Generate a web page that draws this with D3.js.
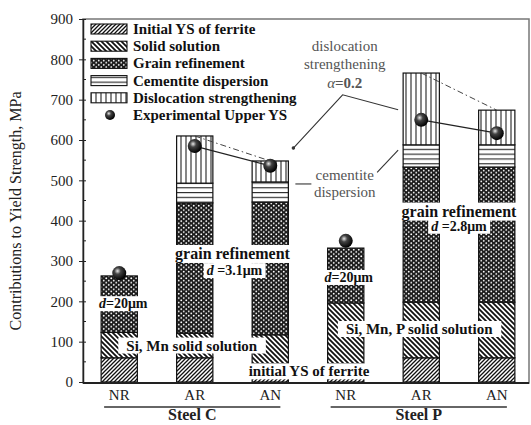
<!DOCTYPE html>
<html><head><meta charset="utf-8">
<script src="https://cdn.jsdelivr.net/npm/d3@7"></script>
<style>body{margin:0;background:#fff;} svg{display:block;font-family:"Liberation Serif","Times New Roman",serif;}</style>
</head><body><svg id="c" width="531" height="425"></svg>
<script>
// ---- data ----
const categories = ["NR","AR","AN","NR","AR","AN"];
const steels = ["Steel C","Steel C","Steel C","Steel P","Steel P","Steel P"];
const ferrite = [60,60,45,45,60,60];
const solidSolution = [63,61,72,151,138,138];
const grainRefinement = [140,323,329,136,335,335];
const cementite = [0,49,50,0,55,55];
const dislocation = [0,117,52,0,178,86];
const experimentalYS = [270,585,536,350,650,617];
const seriesNames = ["Initial YS of ferrite","Solid solution","Grain refinement","Cementite dispersion","Dislocation strengthening"];
const legendExtra = "Experimental Upper YS";
const yTicks = [0,100,200,300,400,500,600,700,800,900];
const yMinorTicks = [50,150,250,350,450,550,650,750,850];
const groupNames = ["Steel C","Steel P"];

const keys = ["ferrite","ss","grain","cem","disl"];
const table = categories.map((c,i)=>({id:i, cat:c, steel:steels[i], ferrite:ferrite[i], ss:solidSolution[i], grain:grainRefinement[i], cem:cementite[i], disl:dislocation[i], exp:experimentalYS[i]}));
table.forEach(d=>d.total=keys.reduce((s,k)=>s+d[k],0));

const svg = d3.select("#c");
const L=83, R=529, T=19, B=383;
const x = d3.scaleBand().domain(d3.range(categories.length)).range([83,533]).paddingInner(0.52).paddingOuter(0.24);
const y = d3.scaleLinear().domain([0,900]).range([382,19]);
const bw = x.bandwidth();

// ---- patterns ----
const defs = svg.append("defs");
function pat(id,w,h,draw){const p=defs.append("pattern").attr("id",id).attr("patternUnits","userSpaceOnUse").attr("width",w).attr("height",h);p.append("rect").attr("width",w).attr("height",h).attr("fill","#fff");draw(p);}
pat("pFerrite",4,4,p=>{p.append("path").attr("d","M-1,1 L1,-1 M0,4 L4,0 M3,5 L5,3").attr("stroke","#111").attr("stroke-width",1.3);});
pat("pSS",5,5,p=>{p.append("path").attr("d","M-1,4 L1,6 M0,0 L5,5 M4,-1 L6,1").attr("stroke","#111").attr("stroke-width",1.8);});
pat("pGrain",5,4.4,p=>{p.select("rect").attr("fill","#1a1a1a");
  [[1.25,1.1],[3.75,3.3],[6.25,3.3],[-1.25,3.3]].forEach(c=>p.append("circle").attr("cx",c[0]).attr("cy",c[1]).attr("r",0.95).attr("fill","#fff"));});
pat("pCem",4,4.8,p=>{p.append("line").attr("x1",0).attr("x2",4).attr("y1",0.6).attr("y2",0.6).attr("stroke","#222").attr("stroke-width",1.1);});
pat("pDisl",5,4,p=>{p.append("line").attr("x1",1).attr("x2",1).attr("y1",0).attr("y2",4).attr("stroke","#222").attr("stroke-width",1.1);});
const fills = {ferrite:"url(#pFerrite)", ss:"url(#pSS)", grain:"url(#pGrain)", cem:"url(#pCem)", disl:"url(#pDisl)"};
const grad = defs.append("radialGradient").attr("id","ball").attr("cx","38%").attr("cy","35%").attr("r","65%");
grad.append("stop").attr("offset","0%").attr("stop-color","#e8e8e8");
grad.append("stop").attr("offset","35%").attr("stop-color","#444");
grad.append("stop").attr("offset","100%").attr("stop-color","#000");

// ---- frame ----
svg.append("rect").attr("x",L).attr("y",T).attr("width",R-L).attr("height",B-T).attr("fill","none").attr("stroke","#777").attr("stroke-width",1.5);

// ---- bars ----
const stack = d3.stack().keys(keys)(table);
const g = svg.append("g");
stack.forEach(s=>{
  g.selectAll(null).data(s.filter(d=>d[1]-d[0]>0)).join("rect")
   .attr("x",d=>x(d.data.id)).attr("width",bw)
   .attr("y",d=>y(d[1])).attr("height",d=>y(d[0])-y(d[1]))
   .attr("fill",fills[s.key]).attr("stroke","#111").attr("stroke-width",1.2);
});

// ---- axes ----
const yAxis = d3.axisLeft(y).tickValues(yTicks).tickSizeInner(4).tickSizeOuter(0).tickPadding(6).tickFormat(d3.format("d"));
const ya = svg.append("g").attr("transform",`translate(${L},0)`).call(yAxis);
ya.select(".domain").attr("stroke","#222").attr("stroke-width",1.5);
ya.selectAll(".tick line").attr("stroke","#222").attr("x2",-4).attr("x1",3);
ya.selectAll(".tick text").attr("font-size",15).attr("fill","#222").attr("font-family","Liberation Serif");
ya.selectAll(null).data(yMinorTicks).join("line").attr("x1",0).attr("x2",3).attr("y1",d=>y(d)).attr("y2",d=>y(d)).attr("stroke","#222");
svg.append("line").attr("x1",L).attr("x2",R).attr("y1",B).attr("y2",B).attr("stroke","#222").attr("stroke-width",1.8);

svg.append("text").attr("transform",`translate(21,${(T+B)/2+10}) rotate(-90)`).attr("text-anchor","middle")
  .attr("font-size",16).attr("fill","#222").text("Contributions to Yield Strength, MPa");

// x labels
svg.selectAll(null).data(table).join("text").attr("x",d=>x(d.id)+bw/2).attr("y",400).attr("text-anchor","middle")
  .attr("font-size",15).attr("fill","#222").text(d=>d.cat);
groupNames.forEach(gn=>{
  const ids = table.filter(d=>d.steel===gn).map(d=>d.id);
  const x0 = x(ids[0])+3, x1 = x(ids[ids.length-1])+bw-8;
  svg.append("line").attr("x1",x0).attr("x2",x1).attr("y1",407).attr("y2",407).attr("stroke","#333").attr("stroke-width",1.5);
  svg.append("text").attr("x",(x0+x1)/2).attr("y",420).attr("text-anchor","middle").attr("font-size",16).attr("font-weight","bold").attr("fill","#222").text(gn);
});

// ---- connecting lines ----
groupNames.forEach(gn=>{
  const rows = table.filter(d=>d.steel===gn && d.cat!=="NR");
  svg.append("line").attr("x1",x(rows[0].id)+bw/2).attr("y1",y(rows[0].total)).attr("x2",x(rows[1].id)+bw/2).attr("y2",y(rows[1].total))
    .attr("stroke","#444").attr("stroke-width",1).attr("stroke-dasharray","6,3,1.5,3");
  svg.append("line").attr("x1",x(rows[0].id)+bw/2).attr("y1",y(rows[0].exp)).attr("x2",x(rows[1].id)+bw/2).attr("y2",y(rows[1].exp))
    .attr("stroke","#222").attr("stroke-width",1.2);
});

// ---- labels with white backgrounds ----
function label(txt,cx,by,opts={}){
  const gg = svg.append("g");
  const r = gg.append("rect").attr("fill","#fff");
  const t = gg.append("text").attr("x",cx).attr("y",by).attr("text-anchor","middle")
    .attr("font-size",opts.size||15).attr("font-weight",opts.weight||"bold").attr("fill",opts.color||"#111");
  if(opts.html) opts.html(t); else t.text(txt);
  if(opts.bg!==false){const b=t.node().getBBox(); const px=opts.padX||3; r.attr("x",b.x-px).attr("y",b.y).attr("width",b.width+2*px).attr("height",b.height);}
  return gg;
}
function dLabel(val,sp){return t=>{t.append("tspan").attr("font-style","italic").text("d");t.append("tspan").text((sp?" =":"=")+val+"μm");};}
const cx = i=>x(i)+bw/2;
label("Si, Mn solid solution",(cx(0)+cx(2))/2-3,y(78),{padX:8});
label("Si, Mn, P solid solution",(cx(3)+cx(5))/2-2,y(119),{padX:8});
label("initial YS of ferrite",(cx(2)+cx(3))/2+1,y(14),{padX:2});
label("",cx(0)+4,y(183),{html:dLabel("20",false), size:14});
label("",cx(3)+3,y(248),{html:dLabel("20",false), size:14});
label("grain refinement",(cx(1)+cx(2))/2,y(305),{size:16});
label("",(cx(1)+cx(2))/2+2,y(265),{html:dLabel("3.1",true), size:14});
label("grain refinement",(cx(4)+cx(5))/2,y(410),{size:16});
label("",(cx(4)+cx(5))/2,y(375),{html:dLabel("2.8",true), size:14});

// gray annotations
label("dislocation",cx(3)-1,y(820),{size:15,weight:"normal",color:"#555",bg:false});
label("strengthening",cx(3)-1,y(775),{size:15,weight:"normal",color:"#555",bg:false});
label("",cx(3)-1,y(730),{size:15,weight:"normal",color:"#555",bg:false,html:t=>{t.append("tspan").attr("font-style","italic").text("α");t.append("tspan").attr("font-weight","bold").text("=0.2");}});
label("cementite",cx(3)-1,y(502),{size:15,weight:"normal",color:"#555",bg:false});
label("dispersion",cx(3)-1,y(458),{size:15,weight:"normal",color:"#555",bg:false});
const ann = svg.append("g").attr("stroke","#333").attr("stroke-width",1.1).attr("fill","none");
ann.append("path").attr("d",`M${x(2)+bw+5},${y(580)} L${x(3)+15},${y(712)} L${x(4)-5},${y(675)}`);
ann.append("circle").attr("cx",x(2)+bw+5).attr("cy",y(580)).attr("r",1.2).attr("fill","#333");
ann.append("line").attr("x1",x(2)+bw+7).attr("x2",x(2)+bw+23).attr("y1",y(491)).attr("y2",y(491));
ann.append("line").attr("x1",x(4)-26).attr("y1",y(520)).attr("x2",x(4)-5).attr("y2",y(575));

// ---- experimental points ----
svg.selectAll(null).data(table).join("circle").attr("cx",d=>cx(d.id)).attr("cy",d=>y(d.exp)).attr("r",7).attr("fill","url(#ball)");

// ---- legend ----
const lg = svg.append("g");
const rowY = i=>29+i*17.2;
seriesNames.forEach((n,i)=>{
  lg.append("rect").attr("x",91).attr("y",rowY(i)-5).attr("width",36).attr("height",10).attr("fill",fills[keys[i]]).attr("stroke","#111").attr("stroke-width",1.1);
  lg.append("text").attr("x",133).attr("y",rowY(i)+5).attr("font-size",15).attr("font-weight","bold").attr("fill","#111").text(n);
});
lg.append("circle").attr("cx",110).attr("cy",rowY(5)).attr("r",5).attr("fill","url(#ball)");
lg.append("text").attr("x",133).attr("y",rowY(5)+5).attr("font-size",15).attr("font-weight","bold").attr("fill","#111").text(legendExtra);
</script></body></html>
